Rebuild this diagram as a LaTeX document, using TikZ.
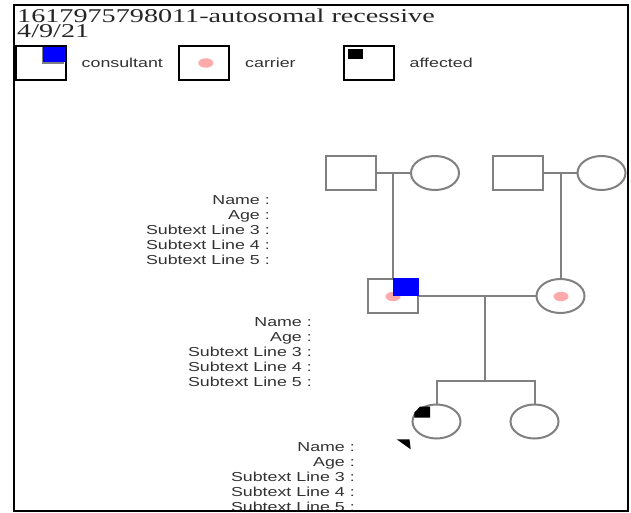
\documentclass[tikz,border=0pt]{standalone}
\usepackage{fontspec}
\setmainfont{Liberation Serif}[FakeStretch=1.445]
\newfontfamily\labelfont{Liberation Sans}[FakeStretch=1.37]
\usepackage{tikz}
\usetikzlibrary{shapes.geometric}

\definecolor{pedgray}{RGB}{128,128,128}
\definecolor{carrierpink}{RGB}{255,170,170}
\definecolor{consblue}{RGB}{0,0,255}
\definecolor{textgray}{RGB}{50,50,50}

\begin{document}
\begin{tikzpicture}[x=1pt, y=-1pt,
    male/.style={draw=pedgray, line width=2pt, rectangle, minimum width=50pt,
                 minimum height=34pt, inner sep=0pt},
    female/.style={draw=pedgray, line width=2pt, ellipse, minimum width=48pt,
                   minimum height=34pt, inner sep=0pt},
    legbox/.style={draw=black, line width=2pt, rectangle, minimum width=50pt,
                   minimum height=34pt, inner sep=0pt},
    legtext/.style={font=\labelfont\fontsize{13}{15}\selectfont, text=textgray,
                    anchor=west, inner sep=0pt},
    info/.style={font=\labelfont\fontsize{13}{15}\selectfont, text=textgray,
                 align=right, anchor=north east, inner sep=0pt},
    title/.style={font=\fontsize{19.5}{15.2}\selectfont, text=black!85,
                  align=left, anchor=north west, inner sep=0pt},
    pedline/.style={draw=pedgray, line width=2pt}
]
\useasboundingbox (0,0) rectangle (631,513);

% header
\node[title] (title) at (17,8.3) {1617975798011-autosomal recessive\\4/9/21};

% legend
\fill[pedgray] (41.5,46) rectangle (64,64);
\fill[consblue] (43,45.5) rectangle (65,62.5);
\node[legbox] (legcons) at (40.5,63) {};
\node[legtext] (legconstext) at (81.5,63) {consultant};
\fill[carrierpink] (205.8,63) ellipse [x radius=7.5pt, y radius=4.75pt];
\node[legbox] (legcarrier) at (204,63) {};
\node[legtext] (legcarriertext) at (245,63) {carrier};
\fill[black] (348,49) rectangle (363,59);
\node[legbox] (legaff) at (368.5,63) {};
\node[legtext] (legafftext) at (409.5,63) {affected};

% generation I
\node[male] (gf1) at (350.5,173) {};
\node[female] (gm1) at (435,173) {};
\node[male] (gf2) at (517.5,173) {};
\node[female] (gm2) at (601.5,173) {};

% generation II
\node[male] (cons) at (393,296) {};
\node[female] (wife) at (560.5,296) {};
\fill[carrierpink] (393,296.5) ellipse [x radius=7.5pt, y radius=4.75pt];
\fill[consblue] (393,296) rectangle (419,278);
\fill[carrierpink] (561,296.5) ellipse [x radius=7.5pt, y radius=4.75pt];

% generation III
\node[female] (dau1) at (436.5,421.5) {};
\node[female] (dau2) at (534.5,421.5) {};
\fill[black] (414.3,412.5) -- (420,406.7) -- (430,406.7) -- (430,417.7)
    -- (414.3,417.7) -- cycle;
\fill[black] (396.7,439.3) -- (409.5,439.3) -- (410.7,449.3) -- cycle;

% lines
\draw[pedline] (gf1.east) -- (gm1.west);
\draw[pedline] (gf2.east) -- (gm2.west);
\draw[pedline] (cons.north) -- (cons.north |- gf1.east);
\draw[pedline] (wife.north) -- (wife.north |- gf2.east);
\draw[pedline] (cons.east) -- (wife.west);
\coordinate (sib) at (485,380.5);
\draw[pedline] (sib) -- (sib |- cons.east);
\draw[pedline] (dau1.north) |- (sib) -| (dau2.north);

% texts
\node[info] (gf1info) at (270,195) {Name :\\Age :\\Subtext Line 3 :\\Subtext Line 4 :\\Subtext Line 5 :};
\node[info] (consinfo) at (312,317.5) {Name :\\Age :\\Subtext Line 3 :\\Subtext Line 4 :\\Subtext Line 5 :};
\node[info] (dauinfo) at (355,442) {Name :\\Age :\\Subtext Line 3 :\\Subtext Line 4 :\\Subtext Line 5 :};

% frame
\draw[line width=2pt] (14,5.5) rectangle (628,511);
\end{tikzpicture}
\end{document}
